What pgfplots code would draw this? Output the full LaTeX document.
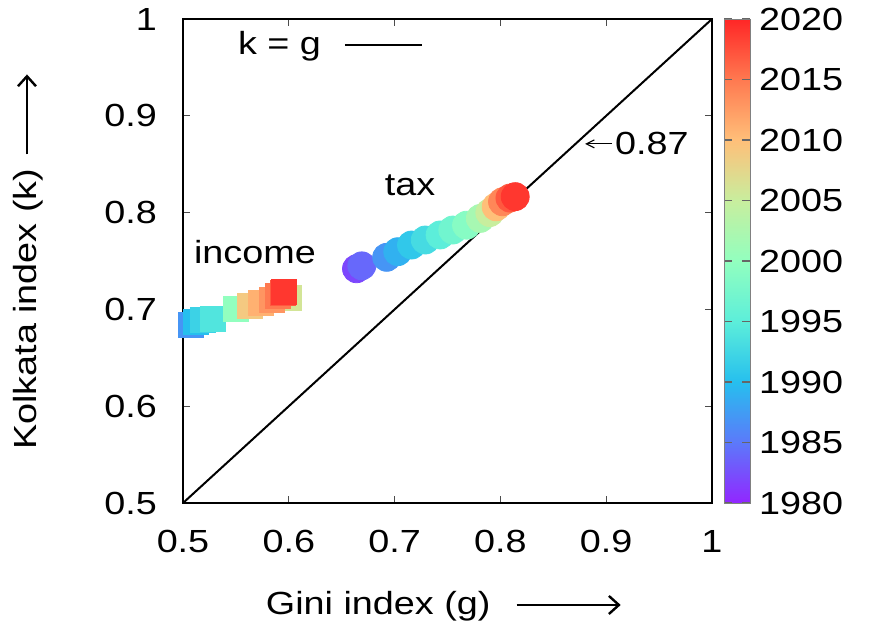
\documentclass[border=0pt]{standalone}
\usepackage{fontspec}
\setmainfont{Liberation Sans}[FakeStretch=1.18]
\usepackage{pgfplots}
\pgfplotsset{compat=1.18}
\usepackage{pgfplotstable}
\usetikzlibrary{arrows.meta}
\pgfkeys{/pgf/number format/.cd, 1000 sep={}, assume math mode=true}

\pgfplotstableread{
g k year
0.507 0.684 1987
0.5125 0.6875 1990
0.519 0.689 1992
0.528 0.690 1994
0.550 0.701 2000
0.600 0.712 2006
0.563 0.704 2009
0.574 0.707 2011
0.584 0.710 2013
0.590 0.714 2015
0.594 0.717 2017
0.595 0.718 2019
}\income

\pgfplotstableread{
g k year
0.664 0.742 1982
0.669 0.745 1984
0.6925 0.7538 1987
0.703 0.7596 1989
0.716 0.7665 1991
0.729 0.7717 1993
0.743 0.7769 1995
0.755 0.782 1997
0.768 0.787 1999
0.781 0.794 2002
0.790 0.800 2005
0.796 0.806 2010
0.802 0.8112 2014
0.809 0.815 2017
0.814 0.8165 2019
}\tax

\newcommand{\longarrow}[1]{\tikz[baseline=-0.55ex]\draw[line width=1.2pt,-{Straight Barb[length=5pt,width=9pt]}] (0,0) -- (#1,0);}

\begin{document}
\fontsize{16}{19}\selectfont
\begin{tikzpicture}
\useasboundingbox (-91.5pt,-63pt) rectangle (347pt,251.5pt);
\begin{axis}[
  at={(0,0)}, anchor=south west,
  scale only axis, width=264.5pt, height=242pt,
  xmin=0.5, xmax=1, ymin=0.5, ymax=1,
  xtick={0.5,0.6,0.7,0.8,0.9,1},
  ytick={0.5,0.6,0.7,0.8,0.9,1},
  tick align=inside, tick pos=both, major tick length=3.5pt,
  every tick/.style={black!70, line width=0.6pt},
  axis line style={line width=1pt},
  xticklabel style={yshift=-8pt},
  yticklabel style={xshift=-7.5pt},
  xlabel={Gini index (g)\hspace{12.5pt}\longarrow{52pt}},
  ylabel={Kolkata index (k)\hspace{6.5pt}\longarrow{40pt}},
  xlabel style={at={(axis description cs:0.4934,-0.2128)}, anchor=center},
  ylabel style={at={(axis description cs:-0.293,0.499)}, anchor=center},
  colormap={gprainbow}{rgb255=(146,38,255) rgb255=(92,121,250) rgb255=(38,191,238) rgb255=(92,238,218) rgb255=(146,255,191) rgb255=(200,238,158) rgb255=(255,191,121) rgb255=(255,121,80) rgb255=(255,38,38)},
  point meta min=1980, point meta max=2020,
  colorbar,
  colorbar style={
    at={(parent axis.north east)}, anchor=north west, xshift=-2.5pt,
    width=13pt,
    ytick={1980,1985,...,2020},
    tick align=inside, major tick length=4pt,
    ytick pos=both, yticklabel pos=right,
    every tick/.style={black!60, line width=0.6pt},
    axis line style={black!50, line width=0.5pt},
    yticklabel style={xshift=-1pt},
  },
  legend plot pos=right,
  legend image code/.code={\path (0pt,0pt); \draw[#1] (11.5pt,0pt) -- (50pt,0pt);},
  legend style={draw=none, fill=none, at={(axis description cs:0.104,0.946)}, anchor=west, inner sep=0pt, outer sep=0pt, nodes={inner sep=0pt}},
  clip=false,
]
\addplot[scatter, only marks, mark=square*, mark size=6.25pt, point meta=explicit,
  scatter/use mapped color={draw=mapped color, fill=mapped color}, forget plot]
  table[x=g, y=k, meta=year] {\income};
\addplot[scatter, only marks, mark=*, mark size=7pt, point meta=explicit,
  scatter/use mapped color={draw=mapped color, fill=mapped color}, forget plot]
  table[x=g, y=k, meta=year] {\tax};
\addplot[black, line width=1pt] coordinates {(0.5,0.5) (1,1)};
\addlegendentry{k = g}
\node at (axis cs:0.568,0.759) {income};
\node at (axis cs:0.7146,0.8285) {tax};
\draw[line width=0.6pt, -{Straight Barb[length=4pt,width=4pt]}] (axis cs:0.9055,0.871) -- (axis cs:0.880,0.871);
\node[anchor=west, inner sep=0pt] at (axis cs:0.908,0.871) {0.87};
\end{axis}
\end{tikzpicture}
\end{document}
